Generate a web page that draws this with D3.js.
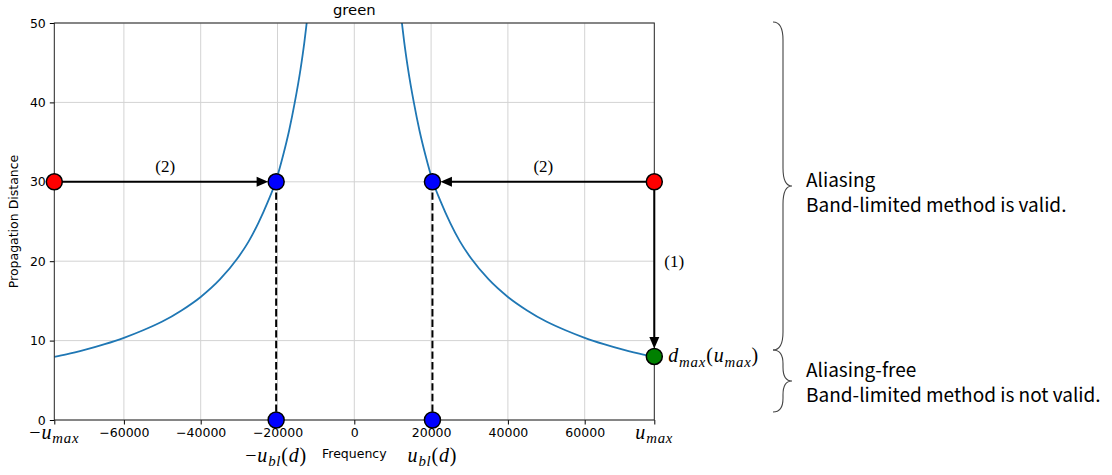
<!DOCTYPE html>
<html>
<head>
<meta charset="utf-8">
<script src="https://cdn.jsdelivr.net/npm/d3@7"></script>
<style>
  body { margin: 0; background: #fff; }
  svg { display: block; }
</style>
</head>
<body>
<svg id="chart" width="1112" height="475"></svg>
<script>
// ---- data -------------------------------------------------------------
const uMax = 78125;            // maximum sampled frequency
const uBl = 20350;             // band-limit frequency at d = 30
const dStart = 30;             // propagation distance of the example
const dMaxAtUMax = 8;          // d_max(u_max)

// d_max(u) curve, sampled on the positive-frequency side (mirrored for u < 0)
const curveFreq = [11500, 12400, 13000, 14000, 15500, 17000, 18500, 20350, 22500, 25000,
                   27500, 30500, 35000, 40000, 45000, 50000, 55000, 60000, 65000, 70000,
                   75000, 78125];
const curveDist = [53.7, 50, 47.6, 44.2, 40, 36.4, 33.4, 30.2, 27.5, 24.8,
                   22.5, 20.3, 17.7, 15.5, 13.8, 12.4, 11.3, 10.35, 9.55, 8.85,
                   8.25, 7.95];

const xTickValues = [-uMax, -60000, -40000, -20000, 0, 20000, 40000, 60000, uMax];
const xTickLabels = ["−u_{max}", "−60000", "−40000", "−20000", "0", "20000", "40000", "60000", "u_{max}"];
const yTickValues = [0, 10, 20, 30, 40, 50];
const xGridValues = [-60000, -40000, -20000, 0, 20000, 40000, 60000];

const redU = [-uMax, uMax];
const redD = [dStart, dStart];
const blueU = [-uBl, uBl, -uBl, uBl];
const blueD = [dStart, dStart, 0, 0];
const greenU = [uMax];
const greenD = [dMaxAtUMax];

// ---- layout -----------------------------------------------------------
const svg = d3.select("#chart");
const pLeft = 54.3, pRight = 654.3, pTop = 23, pBottom = 420;
const x = d3.scaleLinear().domain([-uMax, uMax]).range([pLeft, pRight]);
const y = d3.scaleLinear().domain([0, 50]).range([pBottom, pTop]);

const tickFont = "'DejaVu Sans', sans-serif";
const mathFont = "'Liberation Serif', 'Times New Roman', serif";

svg.append("defs").append("clipPath").attr("id", "plotClip")
  .append("rect").attr("x", pLeft).attr("y", pTop)
  .attr("width", pRight - pLeft).attr("height", pBottom - pTop);

// grid
const grid = svg.append("g").attr("stroke", "#d3d3d3").attr("stroke-width", 1);
grid.selectAll("line.gx").data(xGridValues).join("line").attr("class", "gx")
  .attr("x1", d => x(d)).attr("x2", d => x(d)).attr("y1", pTop).attr("y2", pBottom);
grid.selectAll("line.gy").data(yTickValues).join("line").attr("class", "gy")
  .attr("x1", pLeft).attr("x2", pRight).attr("y1", d => y(d)).attr("y2", d => y(d));

// d_max curve (both branches)
const line = d3.line().x(d => x(d[0])).y(d => y(d[1])).curve(d3.curveMonotoneX);
const rightBranch = curveFreq.map((u, i) => [u, curveDist[i]]);
const leftBranch = curveFreq.map((u, i) => [-u, curveDist[i]]).reverse();
const curveG = svg.append("g").attr("clip-path", "url(#plotClip)");
[leftBranch, rightBranch].forEach(b => {
  curveG.append("path").datum(b).attr("d", line)
    .attr("fill", "none").attr("stroke", "#1f77b4").attr("stroke-width", 1.8);
});

// axes
const xAxis = d3.axisBottom(x).tickValues(xTickValues).tickSize(4.5).tickPadding(4)
  .tickFormat((d, i) => xTickLabels[i].includes("_") ? "" : xTickLabels[i]);
const gx = svg.append("g").attr("transform", `translate(0,${pBottom})`).call(xAxis);
gx.select(".domain").remove();
gx.selectAll("text").attr("font-family", tickFont).attr("font-size", 12.5).attr("fill", "#000");
gx.selectAll("line").attr("stroke", "#000").attr("stroke-width", 1);

const yAxis = d3.axisLeft(y).tickValues(yTickValues).tickSize(4.5).tickPadding(4);
const gy = svg.append("g").attr("transform", `translate(${pLeft},0)`).call(yAxis);
gy.select(".domain").remove();
gy.selectAll("text").attr("font-family", tickFont).attr("font-size", 12.5).attr("fill", "#000");
gy.selectAll("line").attr("stroke", "#000").attr("stroke-width", 1);

// spines
svg.append("rect").attr("x", pLeft).attr("y", pTop)
  .attr("width", pRight - pLeft).attr("height", pBottom - pTop)
  .attr("fill", "none").attr("stroke", "#222").attr("stroke-width", 1);

// math-style text: letters italic, "_{...}" as subscript
function mathText(parent, str, px, py, size, anchor) {
  const t = parent.append("text").attr("x", px).attr("y", py)
    .attr("font-family", mathFont).attr("font-size", size).attr("fill", "#000")
    .attr("letter-spacing", 0.8).attr("text-anchor", anchor);
  const tokens = [];
  let i = 0;
  while (i < str.length) {
    if (str[i] === "_" && str[i + 1] === "{") {
      const end = str.indexOf("}", i);
      tokens.push({ s: str.slice(i + 2, end), sub: true });
      i = end + 1;
    } else {
      tokens.push({ s: str[i], sub: false });
      i++;
    }
  }
  let shifted = false;
  tokens.forEach(tok => {
    const ts = t.append("tspan").text(tok.s);
    if (/[a-z]/i.test(tok.s)) ts.attr("font-style", "italic");
    if (tok.sub) {
      ts.attr("font-size", size * 0.74);
      if (!shifted) { ts.attr("dy", size * 0.22); shifted = true; }
    } else if (shifted) { ts.attr("dy", -size * 0.22); shifted = false; }
  });
  return t;
}

xTickValues.forEach((v, i) => {
  if (xTickLabels[i].includes("_")) mathText(svg, xTickLabels[i], x(v), 439, 20, "middle");
});
mathText(svg, "−u_{bl}(d)", x(-uBl), 462, 20, "middle");
mathText(svg, "u_{bl}(d)", x(uBl), 462, 20, "middle");
mathText(svg, "d_{max}(u_{max})", x(uMax) + 14, y(dMaxAtUMax) + 6, 20, "start");

// axis titles
svg.append("text").attr("x", (pLeft + pRight) / 2).attr("y", 458)
  .attr("text-anchor", "middle").attr("font-family", tickFont).attr("font-size", 12.5)
  .text("Frequency");
svg.append("text").attr("transform", `translate(17.5,${(pTop + pBottom) / 2}) rotate(-90)`)
  .attr("text-anchor", "middle").attr("font-family", tickFont).attr("font-size", 12.5)
  .text("Propagation Distance");
svg.append("text").attr("x", (pLeft + pRight) / 2).attr("y", 15)
  .attr("text-anchor", "middle").attr("font-family", tickFont).attr("font-size", 14.8)
  .text("green");

// dashed drop lines from the band-limit points to the axis
svg.selectAll("line.drop").data([-uBl, uBl]).join("line").attr("class", "drop")
  .attr("x1", d => x(d)).attr("x2", d => x(d)).attr("y1", y(dStart)).attr("y2", y(0))
  .attr("stroke", "#000").attr("stroke-width", 2).attr("stroke-dasharray", "7.4,3.2");

// arrows
const markerR = 8;
function arrow(u0, d0, u1, d1) {
  const x0 = x(u0), y0 = y(d0), x1 = x(u1), y1 = y(d1);
  const len = Math.hypot(x1 - x0, y1 - y0);
  const ux = (x1 - x0) / len, uy = (y1 - y0) / len;
  const tipX = x1 - ux * markerR, tipY = y1 - uy * markerR;
  const headL = 11.5, headW = 5;
  const bx = tipX - ux * headL, by = tipY - uy * headL;
  svg.append("line").attr("x1", x0).attr("y1", y0).attr("x2", bx + ux).attr("y2", by + uy)
    .attr("stroke", "#000").attr("stroke-width", 2);
  svg.append("path")
    .attr("d", `M${tipX},${tipY}L${bx - uy * headW},${by + ux * headW}L${bx + uy * headW},${by - ux * headW}Z`)
    .attr("fill", "#000");
}
arrow(-uMax, dStart, -uBl, dStart);
arrow(uMax, dStart, uBl, dStart);
arrow(uMax, dStart, uMax, dMaxAtUMax);

// step labels
const serif = svg.append("g").attr("font-family", mathFont).attr("font-size", 17).attr("fill", "#000");
serif.append("text").attr("x", x((-uMax - uBl) / 2)).attr("y", y(dStart) - 10)
  .attr("text-anchor", "middle").text("(2)");
serif.append("text").attr("x", x((uMax + uBl) / 2)).attr("y", y(dStart) - 10)
  .attr("text-anchor", "middle").text("(2)");
serif.append("text").attr("x", x(uMax) + 10).attr("y", y(19) - 2)
  .attr("text-anchor", "start").text("(1)");

// markers
function dots(us, ds, color) {
  svg.append("g").selectAll("circle").data(us.map((u, i) => [u, ds[i]])).join("circle")
    .attr("cx", d => x(d[0])).attr("cy", d => y(d[1])).attr("r", markerR)
    .attr("fill", color).attr("stroke", "#000").attr("stroke-width", 1.5);
}
dots(redU, redD, "#ff0000");
dots(blueU, blueD, "#0000ff");
dots(greenU, greenD, "#008000");

// region braces
function brace(y0, y1, xa) {
  const xs = xa + 10, xt = xa + 19, ym = (y0 + y1) / 2;
  const r = Math.min(18, (y1 - y0) / 4.5);
  const p = `M${xa},${y0} Q${xs},${y0} ${xs},${y0 + r} L${xs},${ym - r} ` +
            `Q${xs},${ym} ${xt},${ym} Q${xs},${ym} ${xs},${ym + r} ` +
            `L${xs},${y1 - r} Q${xs},${y1} ${xa},${y1}`;
  svg.append("path").attr("d", p).attr("fill", "none")
    .attr("stroke", "#444").attr("stroke-width", 1.1);
}
brace(22, 350, 773);
brace(350, 412, 773);

const note = svg.append("g").attr("font-family", "'Noto Sans CJK KR', 'Noto Sans', sans-serif")
  .attr("font-size", 19).attr("fill", "#000");
note.append("text").attr("x", 806).attr("y", 187).text("Aliasing");
note.append("text").attr("x", 806).attr("y", 212).text("Band-limited method is valid.");
note.append("text").attr("x", 806).attr("y", 377).text("Aliasing-free");
note.append("text").attr("x", 806).attr("y", 402).text("Band-limited method is not valid.");
</script>
</body>
</html>
